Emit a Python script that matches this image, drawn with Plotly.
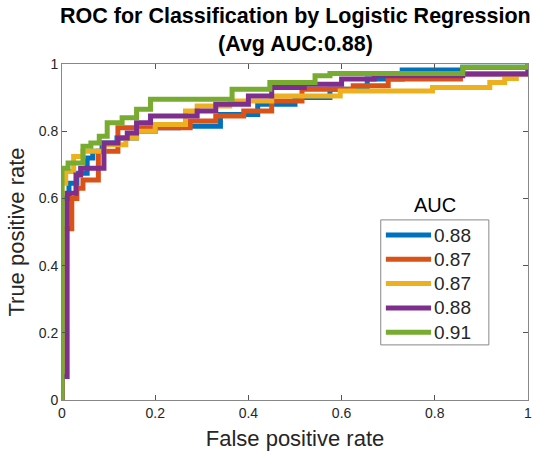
import plotly.graph_objects as go

# ROC step vertices (FPR, TPR) for each fold
fpr_1 = [0, 0, 0.015, 0.032, 0.054, 0.066, 0.086, 0.118, 0.16, 0.2, 0.25, 0.34, 0.42, 0.5, 0.575, 0.655, 0.73, 0.86, 1.0]
tpr_1 = [0, 0.60, 0.645, 0.675, 0.72, 0.74, 0.765, 0.78, 0.80, 0.81, 0.815, 0.85, 0.88, 0.90, 0.925, 0.955, 0.982, 0.99, 1.0]

fpr_2 = [0, 0, 0.021, 0.032, 0.045, 0.078, 0.12, 0.2, 0.275, 0.33, 0.39, 0.45, 0.515, 0.625, 0.70, 0.855, 1.0]
tpr_2 = [0, 0.51, 0.60, 0.63, 0.655, 0.74, 0.81, 0.81, 0.83, 0.845, 0.86, 0.89, 0.925, 0.935, 0.955, 0.97, 1.0]

fpr_3 = [0, 0, 0.008, 0.025, 0.045, 0.09, 0.137, 0.16, 0.2, 0.265, 0.29, 0.36, 0.45, 0.597, 0.795, 0.918, 0.95, 0.975, 1.0]
tpr_3 = [0, 0.645, 0.68, 0.725, 0.74, 0.76, 0.78, 0.80, 0.82, 0.86, 0.875, 0.89, 0.905, 0.92, 0.93, 0.945, 0.957, 0.97, 1.0]

fpr_4 = [0, 0, 0.011, 0.03, 0.04, 0.09, 0.12, 0.14, 0.16, 0.19, 0.29, 0.33, 0.40, 0.45, 0.52, 0.6, 0.67, 0.86, 1.0]
tpr_4 = [0, 0.07, 0.615, 0.67, 0.69, 0.765, 0.78, 0.795, 0.825, 0.845, 0.86, 0.88, 0.905, 0.93, 0.94, 0.955, 0.965, 0.97, 1.0]

fpr_5 = [0, 0, 0.013, 0.045, 0.062, 0.08, 0.097, 0.129, 0.16, 0.19, 0.365, 0.446, 0.543, 0.575, 0.86, 1.0]
tpr_5 = [0, 0.69, 0.705, 0.755, 0.765, 0.785, 0.825, 0.84, 0.865, 0.895, 0.925, 0.945, 0.965, 0.972, 0.99, 1.0]

auc_labels = ["0.88", "0.87", "0.87", "0.88", "0.91"]
colors = ["#0072BD", "#D95319", "#EDB120", "#7E2F8E", "#77AC30"]
tick_vals = [0, 0.2, 0.4, 0.6, 0.8, 1]
tick_text = ["0", "0.2", "0.4", "0.6", "0.8", "1"]
title_lines = ["ROC for Classification by Logistic Regression", "(Avg AUC:0.88)"]

curves = [(fpr_1, tpr_1), (fpr_2, tpr_2), (fpr_3, tpr_3), (fpr_4, tpr_4), (fpr_5, tpr_5)]

fig = go.Figure()
for (fx, ty), lab, col in zip(curves, auc_labels, colors):
    fig.add_trace(go.Scatter(x=fx, y=ty, mode="lines", name=lab, showlegend=False,
                             line=dict(color=col, width=5, shape="hv")))

font_fam = "Liberation Sans, Arial, sans-serif"
axis_common = dict(range=[0, 1], tickvals=tick_vals, ticktext=tick_text,
                   ticks="inside", ticklen=5, tickcolor="#555555",
                   showline=True, linecolor="#888888", linewidth=1, mirror="allticks",
                   showgrid=False, zeroline=False, automargin=False,
                   tickfont=dict(family=font_fam, size=14, color="#262626"))

# legend drawn in paper coordinates (MATLAB style: title above a boxed list)
leg_left, leg_right, leg_top, leg_bottom = 0.684, 0.916, 0.536, 0.164
entry_y0, entry_step = 0.491, 0.0723
line_x0, line_x1, text_x = 0.695, 0.792, 0.795

shapes = [dict(type="rect", xref="paper", yref="paper",
               x0=leg_left, x1=leg_right, y0=leg_bottom, y1=leg_top,
               line=dict(color="#888888", width=1), fillcolor="white", layer="above")]
annots = [dict(text="AUC", x=(leg_left + leg_right) / 2, y=0.580, xref="paper", yref="paper",
               showarrow=False, xanchor="center", yanchor="middle",
               font=dict(family=font_fam, size=20, color="black"))]
for i, (lab, col) in enumerate(zip(auc_labels, colors)):
    yy = entry_y0 - i * entry_step
    shapes.append(dict(type="line", xref="paper", yref="paper",
                       x0=line_x0, x1=line_x1, y0=yy, y1=yy,
                       line=dict(color=col, width=5), layer="above"))
    annots.append(dict(text=lab, x=text_x, y=yy, xref="paper", yref="paper",
                       showarrow=False, xanchor="left", yanchor="middle",
                       font=dict(family=font_fam, size=19, color="#262626")))
for txt, yy in zip(title_lines, [1.143, 1.0595]):
    annots.append(dict(text="<b>" + txt + "</b>", x=0.5, y=yy, xref="paper", yref="paper",
                       showarrow=False, xanchor="center", yanchor="middle",
                       font=dict(family=font_fam, size=21.5, color="black")))

fig.update_layout(
    width=543, height=452,
    margin=dict(l=62, r=15, t=64, b=52),
    paper_bgcolor="white", plot_bgcolor="white",
    xaxis=dict(axis_common, title=dict(text="False positive rate", standoff=10,
                                       font=dict(family=font_fam, size=22, color="#262626"))),
    yaxis=dict(axis_common, title=dict(text="True positive rate", standoff=8,
                                       font=dict(family=font_fam, size=22, color="#262626"))),
    showlegend=False,
    shapes=shapes,
    annotations=annots,
)

fig.write_html("out.html")
